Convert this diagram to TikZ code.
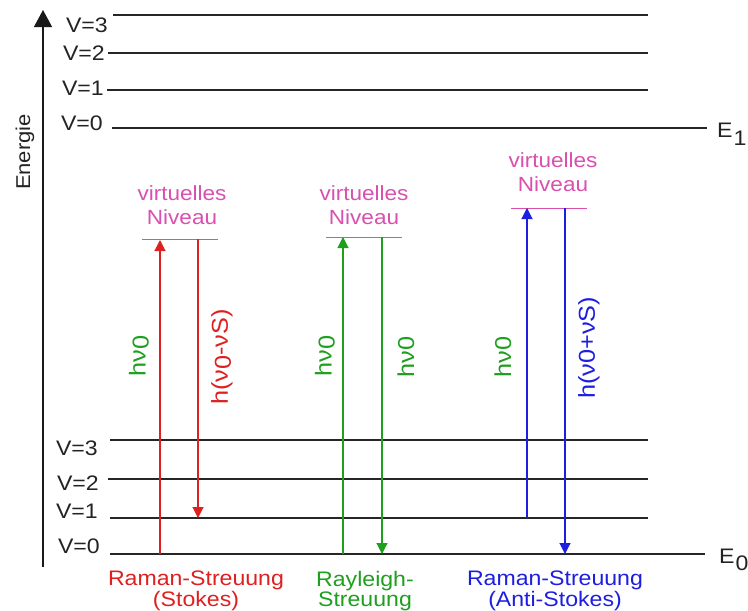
\documentclass[tikz,border=0pt]{standalone}
\usepackage{fontspec}
\setmainfont[FakeStretch=1.1]{Liberation Sans}
\usetikzlibrary{arrows.meta}
\definecolor{cred}{RGB}{222,32,32}
\definecolor{cgreen}{RGB}{30,160,30}
\definecolor{cblue}{RGB}{30,30,225}
\definecolor{cpink}{RGB}{218,80,175}
\definecolor{ctext}{RGB}{35,35,35}
\tikzset{
  lvl/.style={inner sep=0pt, text=ctext, font=\fontsize{21}{24}\selectfont},
  levelline/.style={line width=1.3pt, black!85},
  virtline/.style={line width=1pt, cpink},
  virtlabel/.style={inner sep=0pt, align=center, text=cpink, font=\fontsize{20.5}{24}\selectfont},
  rotlabel/.style={inner sep=0pt, rotate=90, font=\fontsize{23}{24}\selectfont},
  botlabel/.style={inner sep=0pt, align=center, font=\fontsize{21}{19}\selectfont},
  photon/.style={line width=1.1pt, -{Triangle[width=11pt,length=11pt]}},
}
\newcommand{\gnu}{ν}
\newcommand{\nuz}{\raisebox{-3pt}{0}}
\begin{document}
\begin{tikzpicture}[x=1pt,y=-1pt]
\useasboundingbox[fill=white] (0,0) rectangle (748,611);

% energy axis
\coordinate (axB) at (43,567);
\coordinate (axT) at (43,10);
\draw[line width=1.3pt, black!90, -{Triangle[width=18pt,length=17pt]}] (axB) -- (axT);
\node[rotate=90, inner sep=0pt, text=ctext, font=\fontsize{20}{22}\selectfont] (energie) at (25,152) {Energie};

% upper electronic state E1
\node[lvl, anchor=base east] (tV3) at (108,32) {V=3};
\node[lvl, anchor=base east] (tV2) at (105,60) {V=2};
\node[lvl, anchor=base east] (tV1) at (104,95) {V=1};
\node[lvl, anchor=base east] (tV0) at (103,130) {V=0};
\coordinate (tV3s) at (113,15);  \coordinate (tV3e) at (648,15);
\coordinate (tV2s) at (108,53);  \coordinate (tV2e) at (648,53);
\coordinate (tV1s) at (107,90);  \coordinate (tV1e) at (648,90);
\coordinate (tV0s) at (112,128); \coordinate (tV0e) at (707,128);
\draw[levelline] (tV3s) -- (tV3e);
\draw[levelline] (tV2s) -- (tV2e);
\draw[levelline] (tV1s) -- (tV1e);
\draw[levelline] (tV0s) -- (tV0e);
\node[lvl, anchor=base west] (E1) at (717,137) {E\kern1pt\raisebox{-8pt}{1}};

% lower electronic state E0
\node[lvl, anchor=base east] (bV3) at (98,455) {V=3};
\node[lvl, anchor=base east] (bV2) at (99,490) {V=2};
\node[lvl, anchor=base east] (bV1) at (98,518) {V=1};
\node[lvl, anchor=base east] (bV0) at (100,553) {V=0};
\coordinate (bV3s) at (110,440); \coordinate (bV3e) at (648,440);
\coordinate (bV2s) at (108,479); \coordinate (bV2e) at (648,479);
\coordinate (bV1s) at (110,518); \coordinate (bV1e) at (648,518);
\coordinate (bV0s) at (110,554); \coordinate (bV0e) at (705,554);
\draw[levelline] (bV3s) -- (bV3e);
\draw[levelline] (bV2s) -- (bV2e);
\draw[levelline] (bV1s) -- (bV1e);
\draw[levelline] (bV0s) -- (bV0e);
\node[lvl, anchor=base west] (E0) at (719,563) {E\kern1pt\raisebox{-7pt}{0}};

% virtual levels
\coordinate (rvL) at (142,239); \coordinate (rvR) at (218,239);
\coordinate (gvL) at (326,237); \coordinate (gvR) at (402,237);
\coordinate (bvL) at (511,208); \coordinate (bvR) at (587,208);
\draw[virtline] (rvL) -- (rvR);
\draw[virtline] (gvL) -- (gvR);
\draw[virtline] (bvL) -- (bvR);
\node[virtlabel, anchor=south] (rvlab) at (182,225) {virtuelles\\Niveau};
\node[virtlabel, anchor=south] (gvlab) at (364,225) {virtuelles\\Niveau};
\node[virtlabel, anchor=south] (bvlab) at (553,192) {virtuelles\\Niveau};

% Raman Stokes (red)
\coordinate (rU0) at (160,554); \coordinate (rU1) at (160,240);
\coordinate (rD0) at (198,239); \coordinate (rD1) at (198,518);
\draw[photon, cred] (rU0) -- (rU1);
\draw[photon, cred] (rD0) -- (rD1);
\node[rotlabel, text=cgreen] (rhv) at (139,356) {h\gnu\nuz};
\node[rotlabel, text=cred] (rhs) at (222,357) {h(\gnu\nuz-\gnu S)};

% Rayleigh (green)
\coordinate (gU0) at (343,554); \coordinate (gU1) at (343,237);
\coordinate (gD0) at (382,237); \coordinate (gD1) at (382,554);
\draw[photon, cgreen] (gU0) -- (gU1);
\draw[photon, cgreen] (gD0) -- (gD1);
\node[rotlabel, text=cgreen] (ghv1) at (325,356) {h\gnu\nuz};
\node[rotlabel, text=cgreen] (ghv2) at (406,357) {h\gnu0};

% Raman Anti-Stokes (blue)
\coordinate (bU0) at (527,518); \coordinate (bU1) at (527,208);
\coordinate (bD0) at (565,208); \coordinate (bD1) at (565,554);
\draw[photon, cblue] (bU0) -- (bU1);
\draw[photon, cblue] (bD0) -- (bD1);
\node[rotlabel, text=cgreen] (bhv) at (503,357) {h\gnu0};
\node[rotlabel, text=cblue] (bhs) at (589,348) {h(\gnu0+\gnu S)};

% captions
\node[botlabel, text=cred, anchor=north] (cap1) at (196,571) {Raman-Streuung\\(Stokes)};
\node[botlabel, text=cgreen, anchor=north] (cap2) at (365,571) {Rayleigh-\\Streuung};
\node[botlabel, text=cblue, anchor=north] (cap3) at (555,571) {Raman-Streuung\\(Anti-Stokes)};
\end{tikzpicture}
\end{document}
